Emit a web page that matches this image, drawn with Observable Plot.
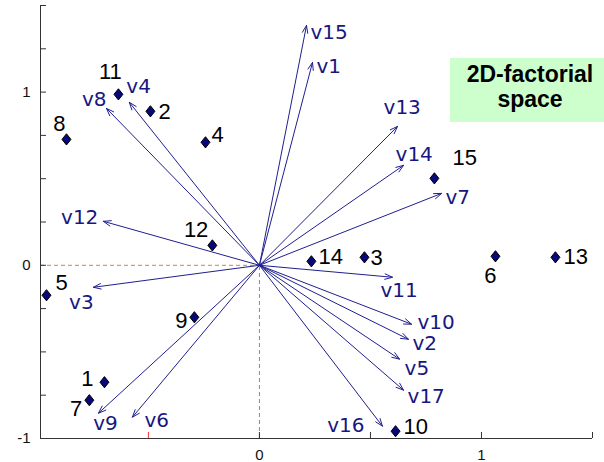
<!DOCTYPE html>
<html><head><meta charset="utf-8">
<script src="https://cdn.jsdelivr.net/npm/d3@7"></script>
<script src="https://cdn.jsdelivr.net/npm/@observablehq/plot@0.6"></script>
<style>
body{margin:0;background:#fff;overflow:hidden}
#wrap{position:relative;width:604px;height:462px}
#box{position:absolute;left:450px;top:58px;width:160px;height:60px;padding-top:4px;background:#ccffcc;color:#000;
 font:bold 23px "Liberation Sans",Arial,sans-serif;line-height:25px;text-align:center;box-sizing:content-box}
</style></head><body><div id="wrap"><div id="box">2D-factorial<br>space</div></div>
<script>
// observations (points)
const pointNames = ["1","2","3","4","5","6","7","8","9","10","11","12","13","14","15"];
const pointX = [-0.698,-0.491,0.473,-0.243,-0.959,1.063,-0.766,-0.869,-0.293,0.613,-0.635,-0.212,1.333,0.234,0.788];
const pointY = [-0.675,0.889,0.046,0.710,-0.173,0.052,-0.779,0.727,-0.300,-0.958,0.987,0.115,0.046,0.023,0.502];
// variables (vectors)
const varNames = ["v1","v2","v3","v4","v5","v6","v7","v8","v9","v10","v11","v12","v13","v14","v15","v16","v17"];
const varX = [0.239,0.671,-0.748,-0.586,0.631,-0.572,0.820,-0.689,-0.725,0.685,0.599,-0.703,0.622,0.649,0.212,0.554,0.649];
const varY = [1.171,-0.427,-0.127,0.941,-0.542,-0.877,0.415,0.906,-0.854,-0.340,-0.069,0.254,0.802,0.577,1.385,-0.929,-0.721];
// axes
const xDomain = [-0.986, 1.5];
const yDomain = [-1, 1.5];
const xTickMarks = [0, 0.5, 1, 1.5];
const xRedTick = [-0.5];
const yTickMarks = [-1,-0.75,-0.5,-0.25,0,0.25,0.5,0.75,1,1.25,1.5];
const xTickLabels = [0, 1];
const yTickLabels = [-1, 0, 1];

// label placement (anchor, dx, dy) – styling only
const varLabelPlace = {
  v1:["start",4,4], v2:["start",4,4], v3:["middle",-12,15], v4:["start",-3,-16], v5:["start",5,9],
  v6:["start",12,3], v7:["start",4,4], v8:["end",0,-9], v9:["middle",7,10], v10:["start",6,-2],
  v11:["start",-12,13], v12:["end",-5,-4], v13:["start",-14,-19], v14:["start",-8,-11], v15:["start",4,7],
  v16:["end",-18,-1], v17:["start",4,6]
};
const pointLabelPlace = {
  "1":["end",-11,-3], "2":["start",8,1], "3":["start",6,1], "4":["start",6,-7], "5":["start",9,-12],
  "6":["middle",-5,20], "7":["end",-7,9], "8":["middle",-7,-15], "9":["end",-7,4], "10":["start",8,-4],
  "11":["middle",-8,-22], "12":["end",-4,-15], "13":["start",8,0], "14":["start",7,-4], "15":["start",18,-20]
};

const points = pointNames.map((n,i)=>({name:n, x:pointX[i], y:pointY[i]}));
const vars = varNames.map((n,i)=>({name:n, x:varX[i], y:varY[i]}));

const W = 604, H = 462, mL = 40, mR = 12, mT = 5, mB = 24;
const navy = "#1f1f8f", labelBlue = "#17177f";

const diamond = {
  draw(ctx, size) {
    const r = Math.sqrt(size / Math.PI);
    const h = r, w = r * 0.8;
    ctx.moveTo(0, -h); ctx.lineTo(w, 0); ctx.lineTo(0, h); ctx.lineTo(-w, 0); ctx.closePath();
  }
};

const marks = [
  Plot.ruleY([0], {x1: xDomain[0], x2: 0, stroke: "#d0804e", strokeDasharray: "4,3"}),
  Plot.ruleX([0], {y1: yDomain[0], y2: 0, stroke: "#8a8a8a", strokeDasharray: "4,3"}),
  Plot.arrow(vars, {x1: 0, y1: 0, x2: "x", y2: "y", bend: 0, headLength: 12, headAngle: 40, stroke: navy, strokeWidth: 1}),
  Plot.dot(points, {x: "x", y: "y", symbol: diamond, r: 5.6, fill: "#08087a", stroke: "#000", strokeWidth: 1}),
  ...vars.map(v => { const [a,dx,dy] = varLabelPlace[v.name];
    return Plot.text([v], {x:"x", y:"y", text:"name", textAnchor:a, dx, dy, fill: labelBlue, fontSize: 20, fontFamily: "DejaVu Sans, Verdana, sans-serif"}); }),
  ...points.map(p => { const [a,dx,dy] = pointLabelPlace[p.name];
    return Plot.text([p], {x:"x", y:"y", text:"name", textAnchor:a, dx, dy, fill: "#000", fontSize: 22, fontFamily: "Liberation Sans, Arial, sans-serif"}); }),
  // axis lines
  Plot.ruleX([xDomain[0]], {stroke: "#333"}),
  Plot.ruleY([yDomain[0]], {stroke: "#333"}),
  // inward tick marks
  Plot.tickY(yTickMarks, {y: d => d, stroke: "#333", insetRight: (W - mL - mR) - 6}),
  Plot.tickX(xTickMarks, {x: d => d, stroke: "#333", insetTop: (H - mT - mB) - 6}),
  Plot.tickX(xRedTick, {x: d => d, stroke: "#ff3030", insetTop: (H - mT - mB) - 6}),
  // tick labels
  Plot.axisY({ticks: yTickLabels, tickSize: 0, tickPadding: 10, fontSize: 15, tickFormat: d => String(d), fill: "#111"}),
  Plot.axisX({ticks: xTickLabels, tickSize: 0, tickPadding: 11, fontSize: 15, tickFormat: d => String(d), fill: "#111"})
];

const chart = Plot.plot({
  width: W, height: H,
  marginLeft: mL, marginRight: mR, marginTop: mT, marginBottom: mB,
  x: {domain: xDomain, label: null},
  y: {domain: yDomain, label: null},
  style: {fontFamily: "Liberation Sans, Arial, sans-serif", fontSize: "15px", background: "#fff", overflow: "visible"},
  marks
});
chart.style.position = "absolute";
chart.style.left = "0"; chart.style.top = "0";
const wrap = document.getElementById("wrap");
wrap.insertBefore(chart, wrap.firstChild);
</script></body></html>
